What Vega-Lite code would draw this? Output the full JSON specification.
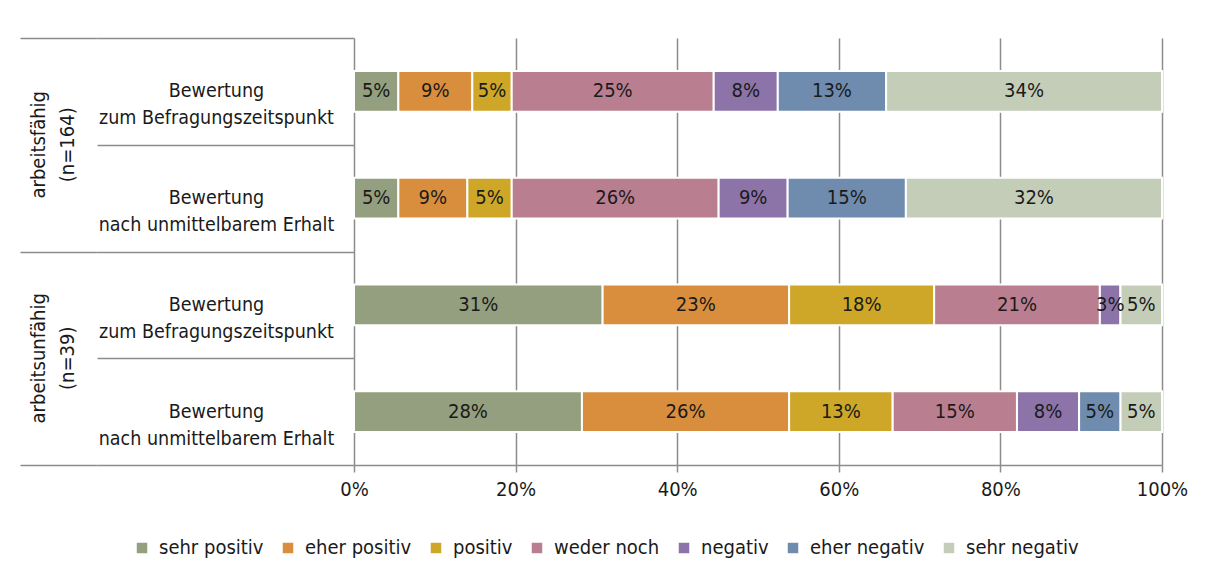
{
  "$schema": "https://vega.github.io/schema/vega-lite/v6.json",
  "padding": {"left": 20, "top": 38, "right": 20, "bottom": 10},
  "bounds": "flush",
  "background": "white",
  "config": {
    "view": {"stroke": null},
    "font": "DejaVu Sans Condensed, Liberation Sans",
    "text": {"font": "DejaVu Sans Condensed, Liberation Sans"},
    "axis": {"labelFont": "DejaVu Sans Condensed, Liberation Sans"},
    "legend": {"labelFont": "DejaVu Sans Condensed, Liberation Sans"}
  },
  "datasets": {
    "groups": [
      {"grp": "g1", "label": "arbeitsfähig\n(n=164)"},
      {"grp": "g2", "label": "arbeitsunfähig\n(n=39)"}
    ],
    "rows": [
      {"row": "r1", "label": "Bewertung\nzum Befragungszeitspunkt"},
      {"row": "r2", "label": "Bewertung\nnach unmittelbarem Erhalt"},
      {"row": "r3", "label": "Bewertung\nzum Befragungszeitspunkt"},
      {"row": "r4", "label": "Bewertung\nnach unmittelbarem Erhalt"}
    ],
    "bars": [
      {"row": "r1", "cat": "sehr positiv", "ord": 1, "share": 0.0549},
      {"row": "r1", "cat": "eher positiv", "ord": 2, "share": 0.0915},
      {"row": "r1", "cat": "positiv", "ord": 3, "share": 0.0488},
      {"row": "r1", "cat": "weder noch", "ord": 4, "share": 0.25},
      {"row": "r1", "cat": "negativ", "ord": 5, "share": 0.0793},
      {"row": "r1", "cat": "eher negativ", "ord": 6, "share": 0.1341},
      {"row": "r1", "cat": "sehr negativ", "ord": 7, "share": 0.3414},
      {"row": "r2", "cat": "sehr positiv", "ord": 1, "share": 0.0549},
      {"row": "r2", "cat": "eher positiv", "ord": 2, "share": 0.0854},
      {"row": "r2", "cat": "positiv", "ord": 3, "share": 0.0549},
      {"row": "r2", "cat": "weder noch", "ord": 4, "share": 0.2561},
      {"row": "r2", "cat": "negativ", "ord": 5, "share": 0.0854},
      {"row": "r2", "cat": "eher negativ", "ord": 6, "share": 0.1463},
      {"row": "r2", "cat": "sehr negativ", "ord": 7, "share": 0.317},
      {"row": "r3", "cat": "sehr positiv", "ord": 1, "share": 0.3077},
      {"row": "r3", "cat": "eher positiv", "ord": 2, "share": 0.2308},
      {"row": "r3", "cat": "positiv", "ord": 3, "share": 0.1795},
      {"row": "r3", "cat": "weder noch", "ord": 4, "share": 0.2051},
      {"row": "r3", "cat": "negativ", "ord": 5, "share": 0.0256},
      {"row": "r3", "cat": "eher negativ", "ord": 6, "share": 0},
      {"row": "r3", "cat": "sehr negativ", "ord": 7, "share": 0.0513},
      {"row": "r4", "cat": "sehr positiv", "ord": 1, "share": 0.2821},
      {"row": "r4", "cat": "eher positiv", "ord": 2, "share": 0.2564},
      {"row": "r4", "cat": "positiv", "ord": 3, "share": 0.1282},
      {"row": "r4", "cat": "weder noch", "ord": 4, "share": 0.1538},
      {"row": "r4", "cat": "negativ", "ord": 5, "share": 0.0769},
      {"row": "r4", "cat": "eher negativ", "ord": 6, "share": 0.0513},
      {"row": "r4", "cat": "sehr negativ", "ord": 7, "share": 0.0513}
    ]
  },
  "spacing": 0,
  "hconcat": [
    {
      "width": 77,
      "height": 427,
      "data": {"name": "groups"},
      "mark": {"type": "text", "angle": 270, "fontSize": 20, "lineHeight": 29, "lineBreak": "\n", "color": "#1a1a1a", "baseline": "middle", "align": "center", "dy": -20},
      "encoding": {
        "y": {"field": "grp", "type": "nominal", "scale": {"domain": ["g1", "g2"], "paddingInner": 0, "paddingOuter": 0},
          "axis": {"labels": false, "ticks": false, "domain": false, "grid": true, "tickBand": "extent", "gridColor": "#8c8c8c", "gridWidth": 1.5, "title": null}},
        "text": {"field": "label"}
      }
    },
    {
      "width": 257,
      "height": 427,
      "data": {"name": "rows"},
      "mark": {"type": "text", "fontSize": 19.5, "lineHeight": 27, "lineBreak": "\n", "color": "#1a1a1a", "baseline": "middle", "align": "center", "dx": -9},
      "encoding": {
        "y": {"field": "row", "type": "nominal", "scale": {"domain": ["r1", "r2", "r3", "r4"], "paddingInner": 0, "paddingOuter": 0},
          "axis": {"labels": false, "ticks": false, "domain": false, "grid": true, "tickBand": "extent", "gridColor": "#8c8c8c", "gridWidth": 1.5, "title": null}},
        "text": {"field": "label"}
      }
    },
    {
      "width": 808,
      "height": 427,
      "data": {"name": "bars"},
      "transform": [
        {"stack": "share", "groupby": ["row"], "sort": [{"field": "ord"}], "as": ["x0", "x1"]}
      ],
      "encoding": {
        "y": {"field": "row", "type": "nominal", "scale": {"domain": ["r1", "r2", "r3", "r4"], "paddingInner": 0.616, "paddingOuter": 0.308}, "axis": null}
      },
      "layer": [
        {
          "mark": {"type": "bar", "stroke": "white", "strokeWidth": 2},
          "encoding": {
            "x": {"field": "x0", "type": "quantitative", "scale": {"domain": [0, 1]},
              "axis": {"format": ".0%", "values": [0, 0.2, 0.4, 0.6, 0.8, 1], "grid": true, "gridColor": "#8c8c8c", "gridWidth": 1.5,
                "domainColor": "#8c8c8c", "domainWidth": 1.5, "tickColor": "#8c8c8c", "tickWidth": 1.5, "tickSize": 7,
                "labelFontSize": 20, "labelColor": "#1a1a1a", "labelPadding": 7, "title": null, "labelFlush": false}},
            "x2": {"field": "x1"},
            "color": {"field": "cat", "type": "nominal",
              "scale": {"domain": ["sehr positiv", "eher positiv", "positiv", "weder noch", "negativ", "eher negativ", "sehr negativ"],
                "range": ["#939f7e", "#d98e3e", "#cfa728", "#b97f91", "#8c74a9", "#6f8bae", "#c4cdb8"]},
              "legend": {"orient": "none", "legendX": 112, "legendY": 500, "direction": "horizontal", "title": null,
                "symbolType": "square", "symbolSize": 110, "symbolStrokeWidth": 0, "labelFontSize": 20, "labelColor": "#1a1a1a",
                "columnPadding": 14, "labelOffset": 7, "labelLimit": 300}}
          }
        },
        {
          "transform": [
            {"filter": "datum.share > 0"},
            {"calculate": "(datum.x0 + datum.x1) / 2", "as": "xm"}
          ],
          "mark": {"type": "text", "fontSize": 20, "color": "#1a1a1a", "baseline": "middle", "align": "center"},
          "encoding": {
            "x": {"field": "xm", "type": "quantitative"},
            "text": {"field": "share", "type": "quantitative", "format": ".0%"}
          }
        }
      ]
    }
  ]
}
